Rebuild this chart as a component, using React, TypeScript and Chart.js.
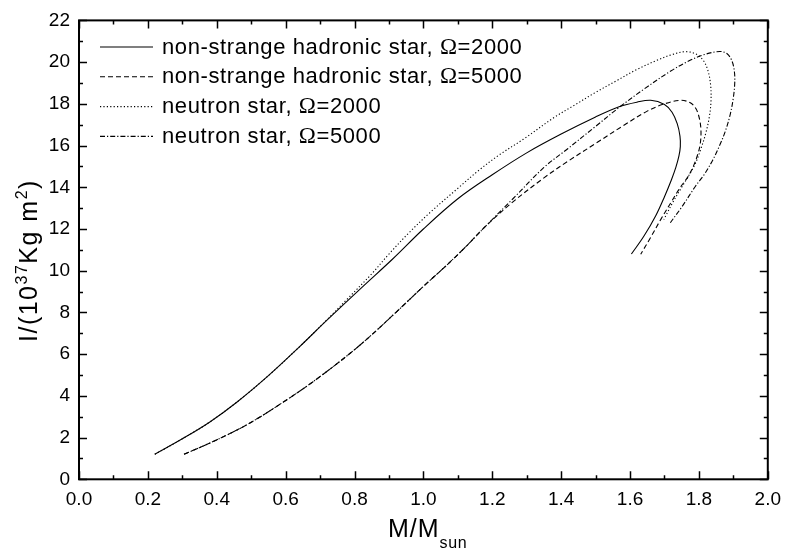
import React, { useEffect, useRef } from "react";
import { Chart, registerables } from "chart.js";

Chart.register(...registerables);

// ---- data ----
const massS2000 = [0.22, 0.30, 0.38, 0.46, 0.55, 0.64, 0.72, 0.82, 0.91, 1.00, 1.10, 1.20, 1.30, 1.40, 1.50, 1.57, 1.62, 1.66, 1.70, 1.722, 1.737, 1.745, 1.746, 1.742, 1.733, 1.72, 1.70, 1.675, 1.64, 1.604];
const inertiaS2000 = [1.2, 1.94, 2.75, 3.72, 4.97, 6.35, 7.63, 9.18, 10.55, 12.0, 13.45, 14.6, 15.65, 16.55, 17.37, 17.87, 18.08, 18.17, 17.97, 17.6, 17.05, 16.45, 15.95, 15.5, 14.95, 14.35, 13.55, 12.65, 11.65, 10.8];

const massS5000 = [0.305, 0.396, 0.491, 0.606, 0.702, 0.817, 0.922, 1.00, 1.066, 1.12, 1.181, 1.26, 1.35, 1.42, 1.50, 1.58, 1.65, 1.70, 1.747, 1.775, 1.792, 1.802, 1.806, 1.804, 1.797, 1.785, 1.768, 1.746, 1.72, 1.689, 1.66, 1.631];
const inertiaS5000 = [1.2, 1.86, 2.65, 3.84, 4.95, 6.45, 8.03, 9.25, 10.24, 11.1, 12.14, 13.3, 14.45, 15.25, 16.1, 16.95, 17.65, 18.0, 18.17, 18.05, 17.75, 17.25, 16.7, 16.1, 15.6, 15.05, 14.5, 14.0, 13.3, 12.45, 11.6, 10.79];

const massN2000 = [0.22, 0.30, 0.38, 0.46, 0.55, 0.64, 0.72, 0.78, 0.85, 0.90, 0.96, 1.02, 1.10, 1.16, 1.22, 1.29, 1.38, 1.44, 1.50, 1.56, 1.62, 1.68, 1.72, 1.76, 1.79, 1.812, 1.826, 1.834, 1.835, 1.83, 1.82, 1.806, 1.79, 1.772, 1.75, 1.725, 1.698];
const inertiaN2000 = [1.2, 1.94, 2.75, 3.72, 4.97, 6.35, 7.65, 8.66, 9.85, 10.8, 11.85, 12.8, 13.95, 14.8, 15.55, 16.3, 17.35, 17.95, 18.55, 19.1, 19.65, 20.1, 20.35, 20.5, 20.4, 20.1, 19.6, 18.9, 18.1, 17.35, 16.6, 15.85, 15.15, 14.6, 14.0, 13.3, 12.45];

const massN5000 = [0.305, 0.396, 0.491, 0.606, 0.702, 0.817, 0.922, 1.00, 1.066, 1.12, 1.181, 1.26, 1.35, 1.42, 1.50, 1.57, 1.64, 1.717, 1.77, 1.813, 1.861, 1.882, 1.896, 1.903, 1.904, 1.90, 1.891, 1.877, 1.86, 1.84, 1.815, 1.79, 1.75, 1.717];
const inertiaN5000 = [1.2, 1.86, 2.65, 3.84, 4.95, 6.45, 8.03, 9.25, 10.24, 11.1, 12.14, 13.45, 14.95, 15.86, 16.92, 17.85, 18.7, 19.56, 20.05, 20.35, 20.51, 20.4, 20.05, 19.55, 19.0, 18.3, 17.5, 16.7, 16.0, 15.3, 14.6, 14.05, 13.05, 12.3];

const seriesNames = ["non-strange hadronic star, ", "non-strange hadronic star, ", "neutron star, ", "neutron star, "];
const omegaValues = ["=2000", "=5000", "=2000", "=5000"];
const xTickLabels = ["0.0", "0.2", "0.4", "0.6", "0.8", "1.0", "1.2", "1.4", "1.6", "1.8", "2.0"];
const yTickLabels = ["0", "2", "4", "6", "8", "10", "12", "14", "16", "18", "20", "22"];

const dashes: number[][] = [[], [5, 3], [1.2, 2.2], [5, 2, 1.2, 2]];

function pts(xs: number[], ys: number[]) {
  return xs.map((x, i) => ({ x, y: ys[i] }));
}

const SANS = "Arial, 'Liberation Sans', sans-serif";
const SERIF = "'Liberation Serif', 'Times New Roman', serif";

const framePlugin = {
  id: "frameTicks",
  afterDraw(chart: any) {
    const ctx = chart.ctx as any;
    const { left, right, top, bottom } = chart.chartArea;
    const xs = chart.scales.x;
    const ys = chart.scales.y;
    ctx.save();
    ctx.strokeStyle = "#000";
    ctx.lineWidth = 1.5;
    ctx.setLineDash([]);
    for (let i = 0; i <= 20; i++) {
      const px = Math.round(xs.getPixelForValue(i * 0.1)) + 0.5;
      const len = i % 2 === 0 ? 8 : 4;
      ctx.beginPath();
      ctx.moveTo(px, bottom);
      ctx.lineTo(px, bottom - len);
      ctx.moveTo(px, top);
      ctx.lineTo(px, top + len);
      ctx.stroke();
    }
    for (let i = 0; i <= 22; i++) {
      const py = Math.round(ys.getPixelForValue(i)) + 0.5;
      const len = i % 2 === 0 ? 8 : 4;
      ctx.beginPath();
      ctx.moveTo(left, py);
      ctx.lineTo(left + len, py);
      ctx.moveTo(right, py);
      ctx.lineTo(right - len, py);
      ctx.stroke();
    }
    ctx.lineWidth = 2;
    ctx.strokeRect(left, top, right - left, bottom - top);

    // legend
    ctx.fillStyle = "#000";
    ctx.textBaseline = "middle";
    ctx.textAlign = "left";
    for (let i = 0; i < 4; i++) {
      const y = 46.5 + i * 29.8;
      ctx.lineWidth = 1.1;
      ctx.setLineDash(dashes[i]);
      ctx.beginPath();
      ctx.moveTo(100, y + 0.5);
      ctx.lineTo(153, y + 0.5);
      ctx.stroke();
      ctx.setLineDash([]);
      let x = 162;
      ctx.letterSpacing = "0.6px";
      ctx.font = `22px ${SANS}`;
      ctx.fillText(seriesNames[i], x, y + 1);
      x += ctx.measureText(seriesNames[i]).width;
      ctx.font = `23px ${SERIF}`;
      ctx.fillText("\u03A9", x, y + 1);
      x += ctx.measureText("\u03A9").width;
      ctx.font = `22px ${SANS}`;
      ctx.fillText(omegaValues[i], x, y + 1);
    }

    // x title
    ctx.textBaseline = "alphabetic";
    ctx.letterSpacing = "1px";
    ctx.font = `25px ${SANS}`;
    let tx = 388;
    ctx.fillText("M/M", tx, 537);
    tx += ctx.measureText("M/M").width;
    ctx.letterSpacing = "0.6px";
    ctx.font = `16px ${SANS}`;
    ctx.fillText("sun", tx, 548);

    // y title
    ctx.translate(37, 342);
    ctx.rotate(-Math.PI / 2);
    let ty = 0;
    const parts: [string, number, number][] = [
      ["I/(10", 25, 0],
      ["37", 16, -10],
      ["Kg m", 25, 0],
      ["2", 16, -10],
      [")", 25, 0],
    ];
    ctx.letterSpacing = "1.5px";
    for (const [t, s, off] of parts) {
      ctx.font = `${s}px ${SANS}`;
      ctx.fillText(t, ty, off);
      ty += ctx.measureText(t).width;
    }
    ctx.restore();
  },
};

export default function App() {
  const ref = useRef<HTMLCanvasElement>(null);
  useEffect(() => {
    const all = [
      pts(massS2000, inertiaS2000),
      pts(massS5000, inertiaS5000),
      pts(massN2000, inertiaN2000),
      pts(massN5000, inertiaN5000),
    ];
    const chart = new Chart(ref.current!, {
      type: "scatter",
      data: {
        datasets: all.map((d, i) => ({
          label: seriesNames[i] + "\u03A9" + omegaValues[i],
          data: d,
          showLine: true,
          borderColor: "#000",
          backgroundColor: "#000",
          borderWidth: 1.1,
          borderDash: dashes[i],
          pointRadius: 0,
          tension: 0.35,
          fill: false,
        })),
      },
      options: {
        animation: false,
        responsive: true,
        maintainAspectRatio: false,
        layout: { padding: { left: 0, top: 15.7, right: 14.3, bottom: 0 } },
        plugins: { legend: { display: false }, tooltip: { enabled: false } },
        scales: {
          x: {
            type: "linear",
            min: 0,
            max: 2,
            border: { display: false },
            grid: { display: false, drawTicks: false },
            afterFit: (s: any) => {
              s.height = 72.7;
            },
            ticks: {
              stepSize: 0.2,
              padding: 9,
              color: "#000",
              font: { family: SANS, size: 19 },
              callback: (v: any) => xTickLabels[Math.round(Number(v) * 5)] ?? "",
            },
          },
          y: {
            type: "linear",
            min: 0,
            max: 22,
            border: { display: false },
            grid: { display: false, drawTicks: false },
            afterFit: (s: any) => {
              s.width = 79;
            },
            ticks: {
              stepSize: 2,
              padding: 9,
              color: "#000",
              font: { family: SANS, size: 19 },
              callback: (v: any) => yTickLabels[Math.round(Number(v) / 2)] ?? "",
            },
          },
        },
      },
      plugins: [framePlugin],
    });
    return () => chart.destroy();
  }, []);
  return (
    <div style={{ position: "absolute", left: 0, top: 0, width: 790, height: 552, background: "#fff" }}>
      <canvas ref={ref} />
    </div>
  );
}
